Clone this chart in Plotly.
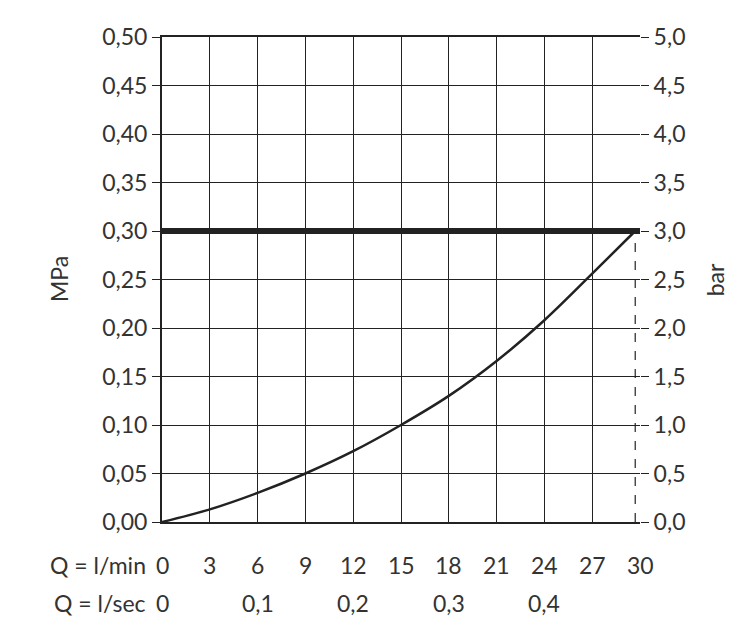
import plotly.graph_objects as go

flow_lmin = [0, 3, 6, 9, 12, 15, 18, 21, 24, 27, 29.7]
pressure_mpa = [0, 0.013, 0.03, 0.05, 0.073, 0.10, 0.13, 0.166, 0.208, 0.256, 0.30]
limit_mpa = 0.30
x_ticks = [0, 3, 6, 9, 12, 15, 18, 21, 24, 27, 30]
sec_ticks = [0, 6, 12, 18, 24]
sec_labels = ["0", "0,1", "0,2", "0,3", "0,4"]
mpa_ticks = [i * 0.05 for i in range(11)]
bar_ticks = [i * 0.5 for i in range(11)]

font = dict(family="Lato, Open Sans, sans-serif", size=23, color="#333")

fig = go.Figure()
fig.add_trace(go.Scatter(x=[0, 30], y=[limit_mpa, limit_mpa], mode="lines",
                         line=dict(color="#222", width=6), showlegend=False))
fig.add_trace(go.Scatter(x=flow_lmin, y=pressure_mpa, mode="lines", line_shape="spline",
                         line=dict(color="#222", width=2.5, smoothing=1), showlegend=False))
fig.add_trace(go.Scatter(x=[flow_lmin[-1], flow_lmin[-1]], y=[0, limit_mpa], mode="lines",
                         line=dict(color="#222", width=1.2, dash="dash"), showlegend=False))
fig.add_trace(go.Scatter(x=[0], y=[0], yaxis="y2", mode="markers",
                         marker=dict(opacity=0), showlegend=False, hoverinfo="skip"))

row1, row2 = -0.089, -0.167
ann = [dict(x=-0.03, y=row1, xref="paper", yref="paper", xanchor="right", yanchor="middle",
            text="Q = l/min", showarrow=False, font=font),
       dict(x=-0.03, y=row2, xref="paper", yref="paper", xanchor="right", yanchor="middle",
            text="Q = l/sec", showarrow=False, font=font),
       dict(x=-0.25, y=0.5, xref="paper", yref="paper", textangle=-90,
            text="MPa", showarrow=False, font=font),
       dict(x=1.19, y=0.5, xref="paper", yref="paper", textangle=-90,
            text="bar", showarrow=False, font=font)]
for v in x_ticks:
    ann.append(dict(x=v, y=row1, xref="x", yref="paper", yanchor="middle",
                    text=str(v), showarrow=False, font=font))
for v, t in zip(sec_ticks, sec_labels):
    ann.append(dict(x=v, y=row2, xref="x", yref="paper", yanchor="middle",
                    text=t, showarrow=False, font=font))

fig.update_layout(
    width=751, height=638, plot_bgcolor="white", paper_bgcolor="white",
    margin=dict(l=154, r=119, t=29, b=124, autoexpand=False),
    font=font, annotations=ann,
    xaxis=dict(range=[0, 30], tickvals=x_ticks, showticklabels=False,
               showgrid=True, gridcolor="#222", gridwidth=1.2,
               showline=True, linecolor="#222", linewidth=2,
               mirror=True, zeroline=False, automargin=False),
    yaxis=dict(range=[0, 0.5], tickvals=mpa_ticks,
               ticktext=[f"{v:.2f}".replace(".", ",") for v in mpa_ticks],
               showgrid=True, gridcolor="#222", gridwidth=1.2, ticks="outside",
               ticklen=8, tickcolor="#222", showline=True, linecolor="#222", linewidth=2,
               zeroline=False, automargin=False),
    yaxis2=dict(range=[0, 5], overlaying="y", side="right", tickvals=bar_ticks,
                ticktext=[f"{v:.1f}".replace(".", ",") for v in bar_ticks],
                showgrid=False, ticks="outside", ticklen=8, tickcolor="#222",
                zeroline=False, automargin=False),
)
fig.write_html("out.html")
